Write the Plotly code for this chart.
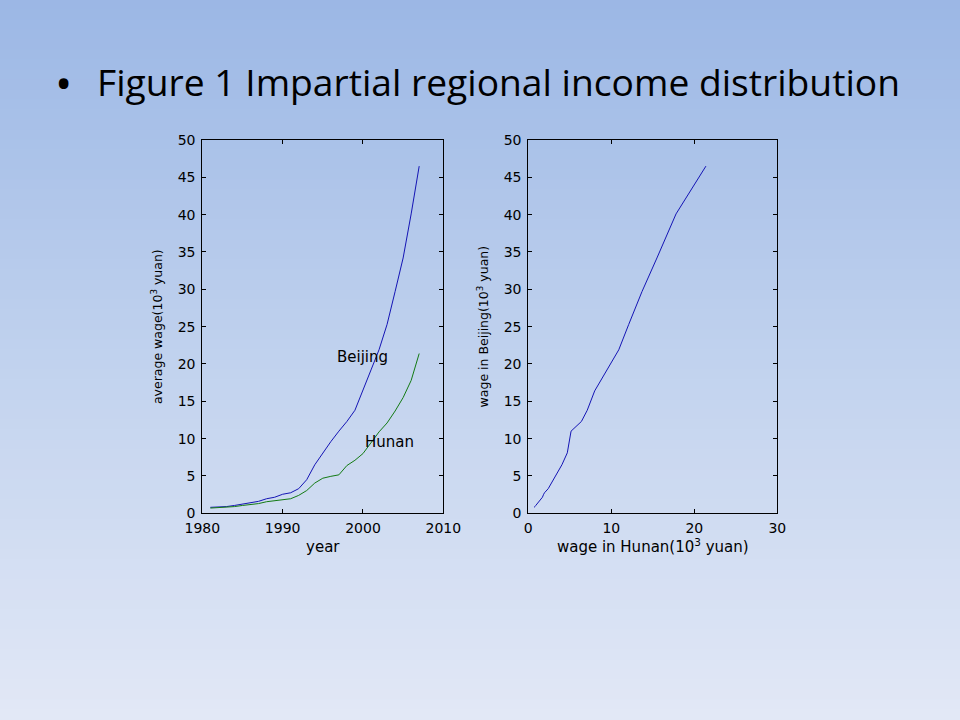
import plotly.graph_objects as go

years = list(range(1981, 2008))
beijing = [0.80, 0.83, 0.90, 1.05, 1.25, 1.42, 1.60, 1.95, 2.15, 2.55, 2.75, 3.30, 4.50,
           6.50, 8.10, 9.60, 11.00, 12.30, 13.80, 16.40, 19.20, 21.90, 25.30, 29.70,
           34.20, 40.10, 46.50]
hunan = [0.70, 0.75, 0.80, 0.90, 1.05, 1.15, 1.30, 1.55, 1.70, 1.85, 1.95, 2.40, 3.05,
         4.05, 4.70, 4.95, 5.15, 6.40, 7.10, 8.00, 9.50, 10.90, 12.10, 13.70,
         15.50, 17.80, 21.40]

title_text = "Figure 1 Impartial regional income distribution"
y_ticks = [0, 5, 10, 15, 20, 25, 30, 35, 40, 45, 50]
x1_ticks = [1980, 1990, 2000, 2010]
x2_ticks = [0, 10, 20, 30]

W, H = 960, 720
fig = go.Figure()

blue = "#1414b4"
green = "#137a13"

fig.add_trace(go.Scatter(x=years, y=beijing, mode="lines", line=dict(color=blue, width=1),
                         xaxis="x", yaxis="y", showlegend=False))
fig.add_trace(go.Scatter(x=years, y=hunan, mode="lines", line=dict(color=green, width=1),
                         xaxis="x", yaxis="y", showlegend=False))
fig.add_trace(go.Scatter(x=hunan, y=beijing, mode="lines", line=dict(color=blue, width=1),
                         xaxis="x2", yaxis="y2", showlegend=False))

# background gradient bands
top = (155, 183, 229)
mid = (193, 210, 238)
bot = (226, 232, 246)
n = 72
shapes = []
for i in range(n):
    t = (i + 0.5) / n
    if t < 0.5:
        u = t / 0.5
        c = tuple(round(top[k] + (mid[k] - top[k]) * u) for k in range(3))
    else:
        u = (t - 0.5) / 0.5
        c = tuple(round(mid[k] + (bot[k] - mid[k]) * u) for k in range(3))
    shapes.append(dict(type="rect", xref="paper", yref="paper", x0=0, x1=1,
                       y0=max(0, 1 - (i + 1) / n - 0.001), y1=min(1, 1 - i / n + 0.001),
                       fillcolor="rgb(%d,%d,%d)" % c, line=dict(width=0), layer="below"))

FF = "DejaVu Sans, Verdana, sans-serif"

def ax(domain, rng, ticks, anchor, title, tsize, standoff, lstand):
    return dict(domain=domain, range=rng, tickvals=ticks, ticks="inside", ticklen=4,
                tickcolor="black", showline=True, linecolor="black", linewidth=1,
                mirror="ticks", showgrid=False, zeroline=False, anchor=anchor,
                automargin=False,
                tickfont=dict(family=FF, size=14, color="black"),
                ticklabelstandoff=lstand,
                title=dict(text=title, font=dict(family=FF, size=tsize, color="black"),
                           standoff=standoff))

yd = [1 - 513.3 / H, 1 - 140 / H]
fig.update_layout(
    width=W, height=H, autosize=False,
    margin=dict(l=0, r=0, t=0, b=0, pad=0, autoexpand=False),
    paper_bgcolor="rgb(193,210,238)", plot_bgcolor="white",
    shapes=shapes,
    xaxis=ax([202.3 / W, 443.3 / W], [1980, 2010], x1_ticks, "y", "year", 15, 6, 2),
    yaxis=ax(yd, [0, 50], y_ticks, "x", "average wage(10<sup>3</sup> yuan)", 12.5, 12, 3),
    xaxis2=ax([528.3 / W, 777.3 / W], [0, 30], x2_ticks, "y2",
              "wage in Hunan(10<sup>3</sup> yuan)", 15, 6, 2),
    yaxis2=ax(yd, [0, 50], y_ticks, "x2", "wage in Beijing(10<sup>3</sup> yuan)", 12.5, 12, 3),
    annotations=[
        dict(text="•", x=63 / W, y=1 - 82 / H, xref="paper", yref="paper", showarrow=False,
             xanchor="center", yanchor="middle",
             font=dict(family="Open Sans, Liberation Sans, Arial", size=46, color="black")),
        dict(text=title_text, x=95 / W, y=1 - 81 / H, xref="paper", yref="paper",
             showarrow=False, xanchor="left", yanchor="middle",
             font=dict(family="Open Sans, Liberation Sans, sans-serif", size=37.2, color="black")),
        dict(text="Beijing", x=1999.9, y=20.9, xref="x", yref="y", showarrow=False,
             font=dict(family=FF, size=15, color="black")),
        dict(text="Hunan", x=2003.25, y=9.5, xref="x", yref="y", showarrow=False,
             font=dict(family=FF, size=15, color="black")),
    ],
)

fig.write_html(
    "out.html",
    config={"displayModeBar": False, "responsive": False},
    post_script="document.body.style.margin='0';document.body.style.padding='0';"
                "document.documentElement.style.overflow='hidden';",
)
